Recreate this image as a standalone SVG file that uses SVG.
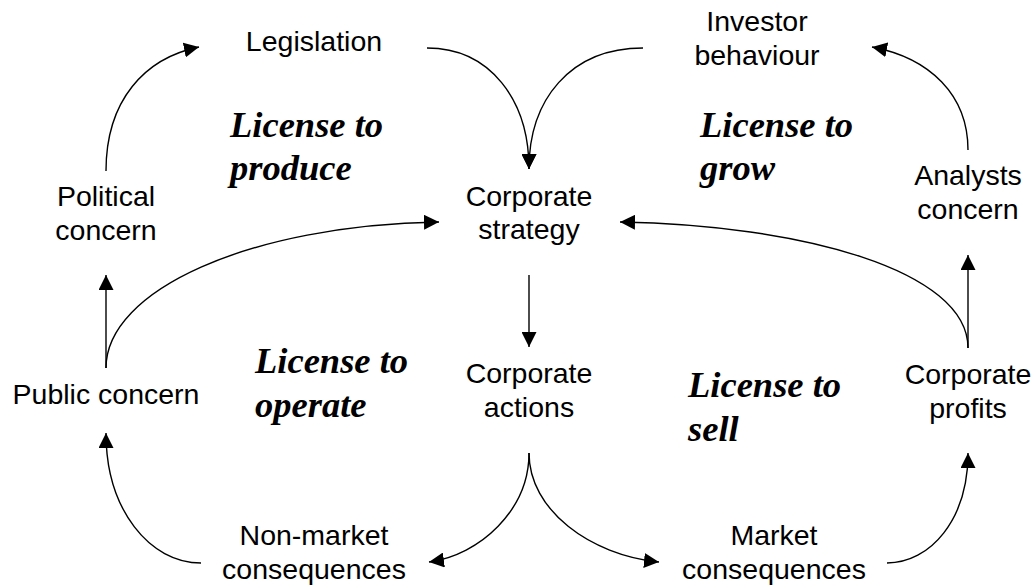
<svg xmlns="http://www.w3.org/2000/svg" width="1035" height="587" viewBox="0 0 1035 587">
  <style>
    .lbl { font-family: "Liberation Sans", Arial, sans-serif; font-size: 28.5px; fill: #000; text-anchor: middle; }
    .lic { font-family: "Liberation Serif", "Times New Roman", serif; font-size: 36.5px; font-weight: bold; font-style: italic; fill: #000; }
    .edge { fill: none; stroke: #000; stroke-width: 1.4; }
  </style>
  <defs>
    <marker id="arrow" markerUnits="userSpaceOnUse" markerWidth="15" markerHeight="15" refX="15" refY="7.5" orient="auto">
      <path d="M0,0 L15,7.5 L0,15 z" fill="#000"/>
    </marker>
  </defs>
  <rect width="1035" height="587" fill="#fff"/>

  <!-- connectors -->
  <g id="connectors" class="edge" marker-end="url(#arrow)">
    <path d="M106,171 C106,100 145,58 199,47"/>
    <path d="M427,48 C490,48 529,100 529,169"/>
    <path d="M643,48 C570,48 529,100 529,169"/>
    <path d="M968,150 C968,95 930,58 872,47"/>
    <path d="M106,368 L106,275"/>
    <path d="M106,368 C106,290 250,225 439,222"/>
    <path d="M529,275 L529,347"/>
    <path d="M968,348 L968,255"/>
    <path d="M968,348 C968,270 800,225 620,222"/>
    <path d="M529,453 C529,510 480,555 429,562"/>
    <path d="M529,453 C529,510 590,555 659,562"/>
    <path d="M887,563 C930,563 968,520 968,453"/>
    <path d="M201,563 C150,563 106,510 106,433"/>
  </g>

  <!-- nodes -->
  <g id="legislation"><text class="lbl" x="314" y="51">Legislation</text></g>
  <g id="investor-behaviour"><text class="lbl" x="757" y="31">Investor</text><text class="lbl" x="757" y="65">behaviour</text></g>
  <g id="political-concern"><text class="lbl" x="106" y="206">Political</text><text class="lbl" x="106" y="240">concern</text></g>
  <g id="corporate-strategy"><text class="lbl" x="529" y="206">Corporate</text><text class="lbl" x="529" y="239">strategy</text></g>
  <g id="analysts-concern"><text class="lbl" x="968" y="185">Analysts</text><text class="lbl" x="968" y="219">concern</text></g>
  <g id="public-concern"><text class="lbl" x="106" y="404">Public concern</text></g>
  <g id="corporate-actions"><text class="lbl" x="529" y="383">Corporate</text><text class="lbl" x="529" y="417">actions</text></g>
  <g id="corporate-profits"><text class="lbl" x="968" y="384">Corporate</text><text class="lbl" x="968" y="418">profits</text></g>
  <g id="non-market-consequences"><text class="lbl" x="314" y="545">Non-market</text><text class="lbl" x="314" y="579">consequences</text></g>
  <g id="market-consequences"><text class="lbl" x="774" y="545">Market</text><text class="lbl" x="774" y="579">consequences</text></g>

  <!-- loop labels -->
  <g id="license-produce"><text class="lic" x="230" y="137">License to</text><text class="lic" x="230" y="180">produce</text></g>
  <g id="license-grow"><text class="lic" x="700" y="137">License to</text><text class="lic" x="700" y="180">grow</text></g>
  <g id="license-operate"><text class="lic" x="255" y="373">License to</text><text class="lic" x="255" y="417">operate</text></g>
  <g id="license-sell"><text class="lic" x="688" y="397">License to</text><text class="lic" x="688" y="441">sell</text></g>
</svg>
